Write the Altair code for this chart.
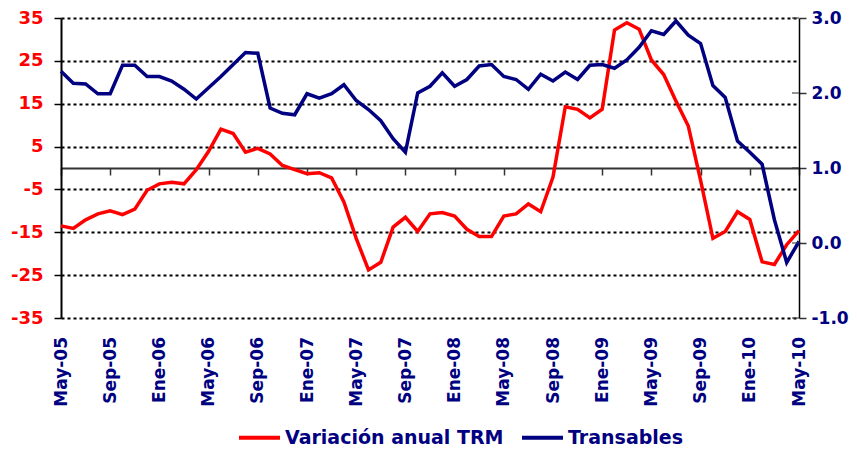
import altair as alt
import pandas as pd

# ---- data ----
month_index = list(range(61))  # May-05 ... May-10, monthly
trm = [-13.5, -14.1, -12.1, -10.7, -10.0, -10.9, -9.6, -5.2, -3.7, -3.35,
       -3.7, -0.4, 3.9, 9.05, 8.05, 3.7, 4.6, 3.3, 0.6, -0.4,
       -1.35, -1.1, -2.3, -7.9, -16.4, -23.8, -22.0, -13.8, -11.5, -14.8,
       -10.7, -10.4, -11.2, -14.3, -16.0, -16.0, -11.2, -10.7, -8.4, -10.2,
       -2.1, 14.3, 13.7, 11.7, 13.7, 32.2, 33.9, 32.4, 25.2, 21.8,
       15.6, 9.8, -2.9, -16.4, -14.8, -10.2, -12.0, -21.9, -22.5, -17.9,
       -14.6]
transables = [2.29, 2.13, 2.12, 1.99, 1.99, 2.37, 2.37, 2.22, 2.22, 2.16,
              2.05, 1.92, 2.07, 2.22, 2.38, 2.54, 2.53, 1.80, 1.73, 1.71,
              1.99, 1.93, 1.99, 2.11, 1.90, 1.78, 1.63, 1.39, 1.21, 2.00,
              2.09, 2.27, 2.09, 2.18, 2.36, 2.38, 2.22, 2.18, 2.05, 2.25,
              2.16, 2.28, 2.18, 2.37, 2.38, 2.33, 2.44, 2.61, 2.83, 2.78,
              2.96, 2.77, 2.66, 2.10, 1.94, 1.36, 1.21, 1.05, 0.31, -0.26,
              0.02]
tick_labels = ["May-05", "Sep-05", "Ene-06", "May-06", "Sep-06", "Ene-07",
               "May-07", "Sep-07", "Ene-08", "May-08", "Sep-08", "Ene-09",
               "May-09", "Sep-09", "Ene-10", "May-10"]
tick_positions = list(range(0, 61, 4))
left_ticks = [-35, -25, -15, -5, 5, 15, 25, 35]
right_ticks = [-1, 0, 1, 2, 3]
series_names = ["Variación anual TRM", "Transables"]

df = pd.DataFrame({"m": month_index, "trm": trm, "tr": transables})
df_rt = pd.DataFrame({"v": right_ticks})

FONT = "DejaVu Sans"
NAVY = "#000080"
RED = "#FF0000"

label_expr = "[" + ",".join(f"'{t}'" for t in tick_labels) + "][round(datum.value/4)]"

x_scale = alt.Scale(domain=[0, 60], nice=False, zero=False)
x_axis = alt.Axis(values=tick_positions, labelExpr=label_expr, labelAngle=-90,
                  offset=-150, tickSize=7, tickColor="#333333", tickWidth=1.5,
                  domainColor="#333333", domainWidth=1.8, labelPadding=161.5,
                  labelFont=FONT, labelFontWeight="bold", labelFontSize=17,
                  labelColor=NAVY, title=None, grid=False, labelOverlap=False)

left_scale = alt.Scale(domain=[-35, 35], nice=False, zero=False)
left_axis = alt.Axis(values=left_ticks, orient="left", grid=True, gridColor="black",
                     gridDash=[3, 3], gridWidth=2, tickSize=7, tickColor="black",
                     tickWidth=1.5, domainColor="black", domainWidth=2,
                     labelExpr="(datum.value < 0 ? '-' : '') + format(abs(datum.value), 'd')",
                     labelFont=FONT, labelFontWeight="bold", labelFontSize=18,
                     labelColor=RED, labelPadding=11, title=None)

right_scale = alt.Scale(domain=[-1, 3], nice=False, zero=False)
right_axis = alt.Axis(values=right_ticks, orient="right", grid=False,
                      tickSize=7, tickColor="#333333", tickWidth=1.5,
                      domainColor="black", domainWidth=1.5,
                      labelExpr="(datum.value < 0 ? '-' : '') + format(abs(datum.value), '.1f')",
                      labelFont=FONT, labelFontWeight="bold", labelFontSize=17,
                      labelColor=NAVY, labelPadding=5, title=None)

color_scale = alt.Scale(domain=series_names, range=[RED, NAVY])
legend = alt.Legend(orient="none", legendX=176, legendY=397, direction="horizontal",
                    symbolType="stroke", symbolSize=1681, symbolStrokeWidth=4,
                    labelFont=FONT, labelFontWeight="bold", labelFontSize=19,
                    labelColor=NAVY, title=None, columnPadding=10, labelOffset=3,
                    labelLimit=0)

red_line = alt.Chart(df).transform_calculate(
    serie=f"'{series_names[0]}'"
).mark_line(strokeWidth=3.5).encode(
    x=alt.X("m:Q", scale=x_scale, axis=x_axis),
    y=alt.Y("trm:Q", scale=left_scale, axis=left_axis),
    color=alt.Color("serie:N", scale=color_scale, legend=legend),
)

blue_line = alt.Chart(df).transform_calculate(
    serie=f"'{series_names[1]}'"
).mark_line(strokeWidth=3.5).encode(
    x=alt.X("m:Q", scale=x_scale, axis=x_axis),
    y=alt.Y("tr:Q", scale=right_scale, axis=right_axis),
    color=alt.Color("serie:N", scale=color_scale, legend=legend),
)

right_inner_ticks = alt.Chart(df_rt).mark_tick(
    orient="horizontal", size=7, thickness=1.5, color="#333333", xOffset=-3.5
).encode(
    x=alt.datum(60),
    y=alt.Y("v:Q", scale=right_scale, axis=right_axis),
)

right_group = alt.layer(blue_line, right_inner_ticks)

chart = alt.layer(red_line, right_group).resolve_scale(
    y="independent"
).properties(
    width=738, height=300,
    autosize=alt.AutoSizeParams(type="none"),
    padding={"left": 53, "top": 10, "right": 50, "bottom": 131},
    background="white",
).configure_view(stroke=None)

chart.save("out.html", embed_options={"renderer": "svg", "actions": False})
